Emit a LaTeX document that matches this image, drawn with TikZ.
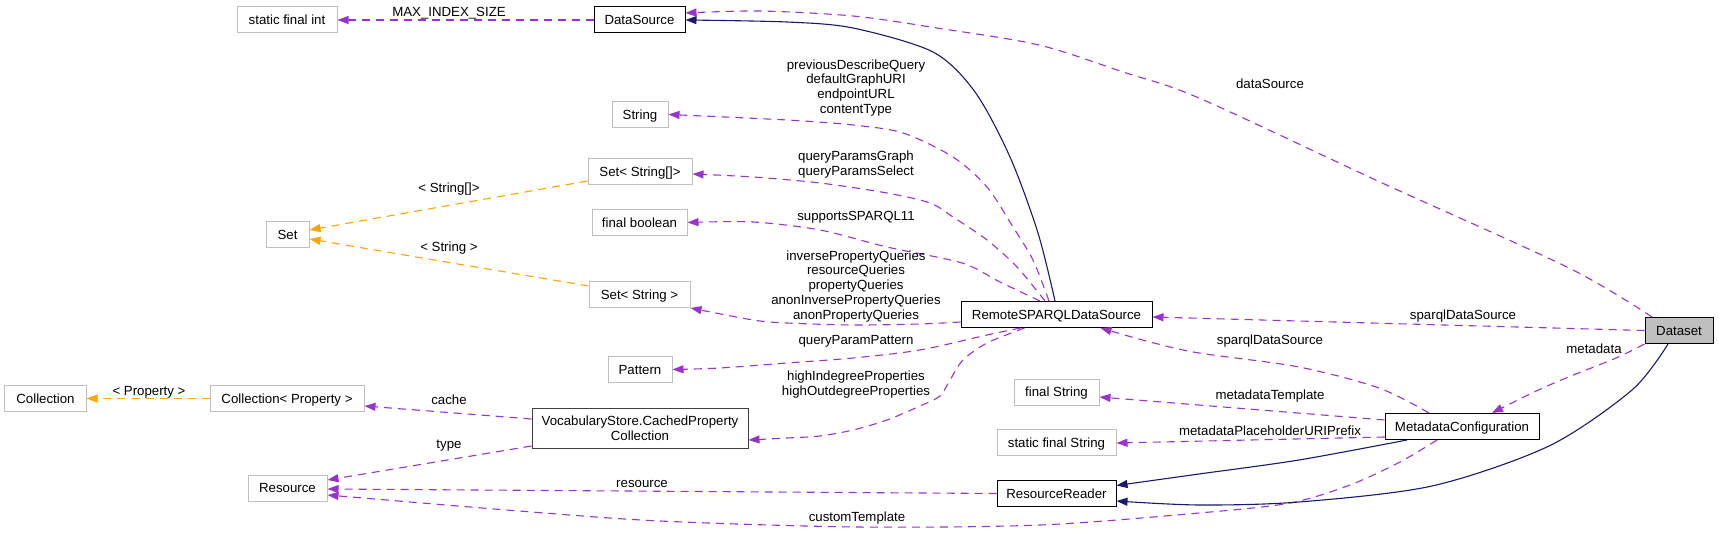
\documentclass[tikz,border=0pt]{standalone}
\usepackage{fontspec}
\setmainfont{Liberation Sans}
\usetikzlibrary{arrows.meta,calc}
\definecolor{dpurple}{HTML}{9A32CD}
\definecolor{dorange}{HTML}{FFA500}
\definecolor{dnavy}{HTML}{191970}
\definecolor{dgray}{HTML}{BFBFBF}
\begin{document}
\begin{tikzpicture}[x=1bp,y=-1bp,
  font=\fontsize{13.3}{15}\selectfont,
  box/.style={draw=black,line width=1bp,inner sep=0pt,text height=9.5bp,text depth=0pt,align=center,minimum height=26bp},
  mbox/.style={draw=black!75,line width=1bp,inner sep=0pt,align=center},
  gbox/.style={box,draw=dgray},
  lbl/.style={inner sep=0pt,text height=9.5bp,text depth=0pt,align=center},
  mlbl/.style={inner sep=0pt,align=center},
  pedge/.style={draw=dpurple,line width=1.1bp,dash pattern=on 8bp off 6bp,-{Triangle[length=11bp,width=8bp]},fill=none},
  oedge/.style={draw=dorange,line width=1.1bp,dash pattern=on 8bp off 6bp,-{Triangle[length=11bp,width=8bp]}},
  nedge/.style={draw=dnavy,line width=1.1bp,-{Triangle[length=11bp,width=8bp]}}
]
\path[use as bounding box,fill=white] (0,0) rectangle (1719,533);

% nodes
\node[gbox,minimum width=100bp] (sfint) at (287,20) {static final int};
\node[box,minimum width=91bp] (DS) at (639.5,20) {DataSource};
\node[gbox,minimum width=56bp] (Str) at (640,114.5) {String};
\node[gbox,minimum width=104bp] (SetSA) at (640,171.5) {Set< String[]>};
\node[gbox,minimum width=43bp] (Set) at (287.5,234.5) {Set};
\node[gbox,minimum width=95bp] (fbool) at (639.5,222.5) {final boolean};
\node[gbox,minimum width=101bp] (SetS) at (639.5,294.5) {Set< String >};
\node[box,minimum width=191bp] (RSDS) at (1056.5,314.5) {RemoteSPARQLDataSource};
\node[gbox,minimum width=64bp] (Pat) at (640,369.5) {Pattern};
\node[gbox,minimum width=81bp] (Coll) at (45.5,398.5) {Collection};
\node[gbox,minimum width=154bp] (CollP) at (287,398.5) {Collection< Property >};
\node[mbox,minimum width=216bp,minimum height=40bp] (VS) at (640,428) {VocabularyStore.CachedProperty\\Collection};
\node[gbox,minimum width=79bp] (Res) at (287.5,488) {Resource};
\node[gbox,minimum width=85bp] (fStr) at (1056.5,392) {final String};
\node[gbox,minimum width=119bp] (sfStr) at (1056.5,442.5) {static final String};
\node[box,minimum width=119bp] (RR) at (1056.5,493.5) {ResourceReader};
\node[box,minimum width=154bp] (MC) at (1462,426.5) {MetadataConfiguration};
\node[box,fill=dgray,minimum width=68bp] (Dset) at (1679,330.5) {Dataset};

% connector end points
\coordinate (e8s) at ($(MC.south)+(-25,0)$);
\coordinate (e8e) at ($(Res.east)+(0,7)$);
\coordinate (e9s) at ($(MC.south)+(-55,0)$);
\coordinate (e9e) at ($(RR.east)+(0,-8)$);
\coordinate (e10s) at ($(Dset.south)+(-11,0)$);
\coordinate (e10e) at ($(RR.east)+(0,7.5)$);
\coordinate (e11s) at ($(RSDS.north)+(-1.5,0)$);
\coordinate (e12s) at ($(Dset.north)+(-27,0)$);
\coordinate (e12e) at ($(DS.east)+(0,-7)$);
\coordinate (e14s) at ($(MC.north)+(-33,0)$);
\coordinate (e14e) at ($(RSDS.south)+(44,0)$);
\coordinate (e15e) at ($(MC.north)+(30,0)$);
\coordinate (e18s) at ($(RSDS.north)+(-7.5,0)$);
\coordinate (e19s) at ($(RSDS.north)+(-11.5,0)$);
\coordinate (e19e) at ($(SetSA.east)+(0,2.5)$);
\coordinate (e20s) at ($(RSDS.north)+(-16.5,0)$);
\coordinate (e21s) at ($(RSDS.west)+(0,7.5)$);
\coordinate (e22s) at ($(RSDS.south)+(-36,0)$);
\coordinate (e23s) at ($(RSDS.south)+(-32,0)$);
\coordinate (e23e) at ($(VS.east)+(0,12)$);

% straight connectors
\draw[pedge] (DS.west) -- (sfint.east);
\draw[oedge] ($(SetSA.west)+(0,9.5)$) -- ($(Set.east)+(0,-4.5)$);
\draw[oedge] ($(SetS.west)+(0,-8.5)$) -- ($(Set.east)+(0,4.5)$);
\draw[oedge] (CollP.west) -- (Coll.east);
\draw[pedge] ($(VS.west)+(0,-9)$) -- ($(CollP.east)+(0,7.5)$);
\draw[pedge] ($(VS.west)+(0,18)$) -- ($(Res.east)+(0,-8)$);
\draw[pedge] (RR.west) -- ($(Res.east)+(0,1)$);
\draw[pedge] (Dset.west) -- ($(RSDS.east)+(0,2.5)$);
\draw[pedge] ($(MC.west)+(0,-6.5)$) -- ($(fStr.east)+(0,5)$);
\draw[pedge] ($(MC.west)+(0,10.5)$) -- ($(sfStr.east)+(0,0.5)$);

% curved connectors
\draw[pedge] plot[smooth] coordinates {(e8s) (1400,462) (1350,485) (1290,503) (1199,513) (1040,525) (857,527) (660,521) (519,511) (e8e)};
\draw[nedge] plot[smooth] coordinates {(e9s) (1299,460) (1199,474) (e9e)};
\draw[nedge] plot[smooth] coordinates {(e10s) (1632,390) (1549,446) (1432,486) (1299,502) (1199,505) (e10e)};
\draw[nedge] plot[smooth] coordinates {(e11s) (1038,233) (1010,157) (975,92) (933,52) (853,28) (787,22) (DS.east)};
\draw[pedge] plot[smooth] coordinates {(e12s) (1569,268) (1380,182) (1199,98) (1123,72) (1039,45) (937,28) (853,16) (760,11) (e12e)};
\draw[pedge] plot[smooth] coordinates {(e14s) (1379,388) (1299,367) (1199,353) (1150,342) (e14e)};
\draw[pedge] plot[smooth] coordinates {(Dset.south west) (1616,358) (1566,378) (1532,393) (e15e)};
\draw[pedge] plot[smooth] coordinates {(e18s) (1033,260) (1013,227) (987,187) (953,157) (903,133) (853,125) (787,120) (Str.east)};
\draw[pedge] plot[smooth] coordinates {(e19s) (1017,267) (987,240) (953,217) (930,203) (887,193) (820,183) (753,177) (e19e)};
\draw[pedge] plot[smooth] coordinates {(e20s) (1000,282) (962,263) (887,247) (820,230) (753,222) (fbool.east)};
\draw[pedge] plot[smooth] coordinates {(e21s) (920,324) (853,325) (787,323) (753,320) (SetS.south east)};
\draw[pedge] plot[smooth] coordinates {(e22s) (987,335) (920,350) (853,358) (787,363) (720,368) (Pat.east)};
\draw[pedge] plot[smooth] coordinates {(e23s) (987,343) (963,360) (950,380) (940,396) (920,406) (887,420) (853,430) (820,436) (787,438) (e23e)};

% labels
\node[lbl] (l1) at (449,12) {MAX\_INDEX\_SIZE};
\node[lbl] (l2) at (449,188) {< String[]>};
\node[lbl] (l3) at (449,247) {< String >};
\node[lbl] (l4) at (149,391) {< Property >};
\node[lbl] (l5) at (449,400) {cache};
\node[lbl] (l6) at (449,444) {type};
\node[lbl] (l7) at (642,483) {resource};
\node[lbl] (l8) at (857,517) {customTemplate};
\node[mlbl] (l9) at (856,88) {previousDescribeQuery\\defaultGraphURI\\endpointURL\\contentType};
\node[mlbl] (l10) at (856,164.5) {queryParamsGraph\\queryParamsSelect};
\node[lbl] (l11) at (856,216) {supportsSPARQL11};
\node[mlbl] (l12) at (856,286.5) {inversePropertyQueries\\resourceQueries\\propertyQueries\\anonInversePropertyQueries\\anonPropertyQueries};
\node[lbl] (l13) at (856,340) {queryParamPattern};
\node[mlbl] (l14) at (856,384.5) {highIndegreeProperties\\highOutdegreeProperties};
\node[lbl] (l15) at (1270,84) {dataSource};
\node[lbl] (l16) at (1463,315) {sparqlDataSource};
\node[lbl] (l17) at (1270,340) {sparqlDataSource};
\node[lbl] (l18) at (1594,349) {metadata};
\node[lbl] (l19) at (1270,395) {metadataTemplate};
\node[lbl] (l20) at (1270,431) {metadataPlaceholderURIPrefix};
\end{tikzpicture}
\end{document}
